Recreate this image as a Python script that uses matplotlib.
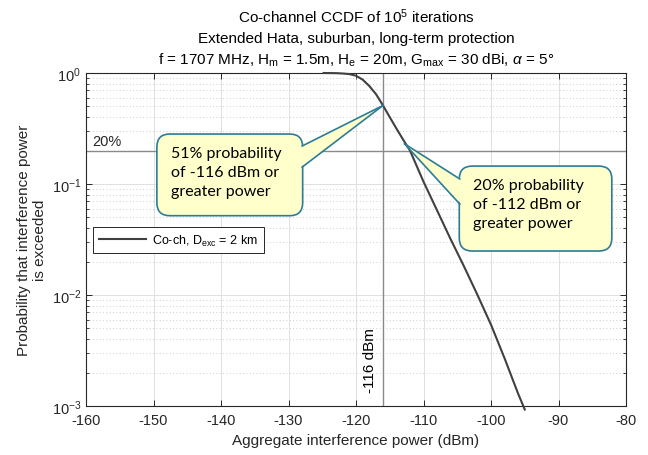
import matplotlib.pyplot as plt
from matplotlib.patches import FancyBboxPatch, Polygon
from matplotlib.lines import Line2D
from matplotlib.transforms import IdentityTransform

plt.rcParams['font.family'] = ['Liberation Sans', 'DejaVu Sans']
plt.rcParams['mathtext.fontset'] = 'custom'
plt.rcParams['mathtext.rm'] = 'Liberation Sans'
plt.rcParams['mathtext.it'] = 'Liberation Sans:italic'
plt.rcParams['mathtext.bf'] = 'Liberation Sans:bold'

# CCDF of aggregate interference (co-channel, 2 km exclusion)
power = [-124.8, -123, -122, -121, -120, -119, -118, -117, -116, -115, -114, -113,
         -112, -110, -108, -106, -104, -102, -100, -98, -96, -95]
prob = [1.0, 0.997, 0.99, 0.978, 0.945, 0.87, 0.76, 0.64, 0.51, 0.40, 0.315, 0.25,
        0.20, 0.105, 0.058, 0.032, 0.0181, 0.0100, 0.0054, 0.0027, 0.0013, 0.00093]

x_ticks = [-160, -150, -140, -130, -120, -110, -100, -90, -80]
threshold_dbm = -116
threshold_prob = 0.51
level_dbm = -112
level_prob = 0.20

callout_fill = '#FFFFCC'
callout_edge = '#2C7C98'

fig = plt.figure(figsize=(6.48, 4.56), dpi=100)
ax = fig.add_axes([86/648, 1 - 407/456, 540/648, 333/456])

ax.set_yscale('log')
ax.set_xlim(-160, -80)
ax.set_ylim(1e-3, 1)
ax.set_xticks(x_ticks)
ax.set_xticklabels([str(t) for t in x_ticks])

ax.grid(which='major', color='#e0e0e0', lw=0.7, ls='-')
ax.yaxis.grid(which='minor', color='#bdbdbd', lw=0.6, ls=(0, (1, 3)))
ax.set_axisbelow(True)
ax.tick_params(which='both', direction='in', top=True, right=True,
               color='#262626', labelcolor='#262626', labelsize=10.5)
ax.tick_params(which='major', length=4, width=0.7)
ax.tick_params(which='minor', length=2, width=0.6)
ax.tick_params(axis='x', pad=5)
for s in ax.spines.values():
    s.set_color('#262626')
    s.set_linewidth(0.8)

ax.axvline(threshold_dbm, color='#8a8a8a', lw=1.0, zorder=2)
ax.axhline(level_prob, color='#8a8a8a', lw=1.0, zorder=2)
line, = ax.plot(power, prob, color='#404040', lw=1.5, zorder=3,
                label=r'Co-ch, D$_{\mathrm{exc}}$ = 2 km', clip_on=False)

ax.text(-159.1, level_prob * 1.05, '20%', fontsize=10.5, color='#262626',
        ha='left', va='bottom')
ax.text(-117.9, 0.0026, '-116 dBm', fontsize=11, rotation=90,
        ha='center', va='center', color='black')

ax.set_xlabel('Aggregate interference power (dBm)', fontsize=11, color='#262626',
              labelpad=4)
ax.set_ylabel('Probability that interference power\nis exceeded', fontsize=11,
              color='#262626', labelpad=3, linespacing=1.25)

leg = ax.legend(handles=[line], loc='upper left', bbox_to_anchor=(0.013, 0.5375),
                borderaxespad=0, fontsize=9, fancybox=False, framealpha=1,
                edgecolor='#262626', handlelength=3.8, handletextpad=0.5,
                borderpad=0.45)
leg.get_frame().set_linewidth(0.7)

cx = (86 + 626) / 2 / 648
fig.text(cx, 1 - 22.5/456, r'Co-channel CCDF of 10$^5$ iterations',
         ha='center', va='baseline', fontsize=11)
fig.text(cx, 1 - 43.5/456, 'Extended Hata, suburban, long-term protection',
         ha='center', va='baseline', fontsize=11)
fig.text(cx, 1 - 64.5/456,
         r'f = 1707 MHz, H$_{\mathrm{m}}$ = 1.5m, H$_{\mathrm{e}}$ = 20m, '
         r'G$_{\mathrm{max}}$ = 30 dBi, $\alpha$ = 5$\degree$',
         ha='center', va='baseline', fontsize=11)


def callout(box, tip, base, side, text):
    # rounded speech box with a wedge pointing at the curve, drawn in pixels
    (x0, y0) = ax.transData.transform((box[0], box[2]))
    (x1, y1) = ax.transData.transform((box[1], box[3]))
    tx, ty = ax.transData.transform(tip)
    if side == 'right':
        bx = x1 - 2
    else:
        bx = x0 + 2
    b1 = ax.transData.transform((box[1] if side == 'right' else box[0], base[0]))[1]
    b2 = ax.transData.transform((box[1] if side == 'right' else box[0], base[1]))[1]
    ident = IdentityTransform()
    patch = FancyBboxPatch((x0, y0), x1 - x0, y1 - y0,
                           boxstyle='round,pad=0,rounding_size=13',
                           fc=callout_fill, ec=callout_edge, lw=1.2,
                           transform=ident, zorder=5, clip_on=False)
    ax.add_artist(patch)
    wedge = Polygon([(tx, ty), (bx, b1), (bx, b2)], closed=True, fc=callout_fill,
                    ec='none', transform=ident, zorder=6, clip_on=False)
    ax.add_artist(wedge)
    for by in (b1, b2):
        ax.add_artist(Line2D([tx, bx + (1.5 if side == 'right' else -1.5)], [ty, by],
                             color=callout_edge, lw=1.2, transform=ident, zorder=7,
                             clip_on=False))
    ax.text(x0 + 14, y1 - 12, text, transform=ident, ha='left', va='top',
            fontsize=11.5, family=['Lato', 'DejaVu Sans'], linespacing=1.45,
            color='black', zorder=8)


callout((-149.5, -127.9, 0.0518, 0.282), (threshold_dbm, threshold_prob),
        (0.22, 0.142), 'right',
        '51% probability\nof -116 dBm or\ngreater power')
callout((-104.7, -82.1, 0.0249, 0.145), (-112.8, 0.23),
        (0.111, 0.066), 'left',
        '20% probability\nof -112 dBm or\ngreater power')

fig.savefig('out.png', dpi=100)
